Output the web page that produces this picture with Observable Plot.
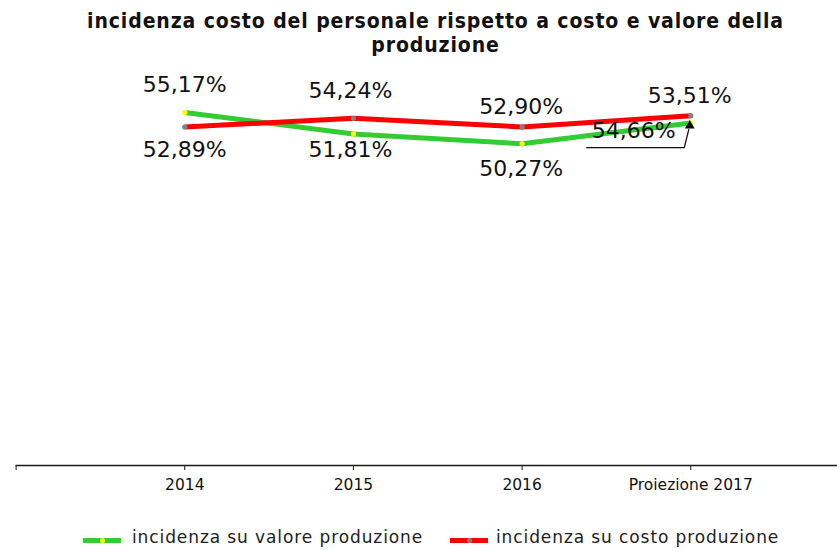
<!DOCTYPE html>
<html>
<head>
<meta charset="utf-8">
<script src="https://cdn.jsdelivr.net/npm/d3@7"></script>
<script src="https://cdn.jsdelivr.net/npm/@observablehq/plot@0.6"></script>
<style>
  html, body { margin: 0; padding: 0; background: #fff; }
  #wrap { position: relative; width: 837px; height: 550px; overflow: hidden; }
  #title { box-sizing: border-box; width: 837px; height: 60px; padding: 9px 0 0 34px; text-align: center;
    font-family: "DejaVu Sans Condensed", "DejaVu Sans", sans-serif; font-stretch: condensed; font-weight: bold;
    font-size: 21px; letter-spacing: 0.9px; line-height: 24px; color: #111; }
  #legend { position: relative; width: 837px; height: 30px; font-family: "DejaVu Sans", sans-serif;
    font-size: 17px; letter-spacing: 0.9px; color: #222; }
  .item { position: absolute; top: 0; height: 30px; }
  .sw { position: absolute; top: 18px; width: 38px; height: 5px; }
  .sw i { position: absolute; left: 17px; top: -0.5px; width: 5px; height: 5px; border-radius: 50%; }
  .lab { position: absolute; top: 8px; white-space: nowrap; line-height: 19px; }
</style>
</head>
<body>
<div id="wrap">
  <div id="title">incidenza costo del personale rispetto a costo e valore della<br>produzione</div>
  <div id="chart"></div>
  <div id="legend"></div>
</div>
<script>
// ---- data ----
const years = ["2014", "2015", "2016", "Proiezione 2017"];
const valoreProduzione = [55.17, 51.81, 50.27, 53.51];
const costoProduzione = [52.89, 54.24, 52.90, 54.66];
const seriesNames = ["incidenza su valore produzione", "incidenza su costo produzione"];

// ---- styles / layout ----
const colors = { line: ["#33cc33", "#ff0000"], dot: ["#ffff00", "#808080"] };
const W = 837, H = 460, mL = 15.6, mR = 0, mT = 21, mB = 55;
const xDomain = [-1, 3.87], yDomain = [0, 60];
const pxX = (W - mL - mR) / (xDomain[1] - xDomain[0]);
const pxY = (H - mT - mB) / (yDomain[1] - yDomain[0]);
// label offsets in pixels [dx, dy] per series / category
const labelOffsets = [
  [[0, -27], [-3, 16], [-1, 25], [-1, -27]],
  [[0, 23], [-3, -27], [-1, -20], [-57, 15.5]]
];

const fmt = v => v.toFixed(2).replace(".", ",") + "%";
const rows = [];
[valoreProduzione, costoProduzione].forEach((arr, s) =>
  arr.forEach((v, i) => rows.push({ s, i, v, name: seriesNames[s] })));

const marks = [
  Plot.ruleY([0], { stroke: "#1a1a1a", strokeWidth: 1.5 })
];
[0, 1].forEach(s => {
  marks.push(Plot.line(rows.filter(d => d.s === s), {
    x: "i", y: "v", stroke: colors.line[s], strokeWidth: 5, strokeLinejoin: "round", strokeLinecap: "butt"
  }));
});
[0, 1].forEach(s => {
  marks.push(Plot.dot(rows.filter(d => d.s === s), {
    x: "i", y: "v", r: 2.6, fill: colors.dot[s], stroke: "none"
  }));
});
rows.forEach(d => {
  const [dx, dy] = labelOffsets[d.s][d.i];
  marks.push(Plot.text([d], {
    x: "i", y: "v", text: dd => fmt(dd.v), dx, dy,
    fontSize: 22, fill: "#111", fontFamily: "DejaVu Sans, sans-serif"
  }));
});
// callout for the last "costo" label
const last = rows.find(d => d.s === 1 && d.i === 3);
const at = (dxp, dyp) => ({ x: last.i + dxp / pxX, y: last.v - dyp / pxY });
marks.push(Plot.line([at(-104, 32), at(-6.5, 32), at(-2, 14)], {
  x: "x", y: "y", stroke: "#111", strokeWidth: 1.3
}));
marks.push(Plot.dot([at(-1, 10)], {
  x: "x", y: "y", symbol: "triangle", r: 3.6, fill: "#000", stroke: "none"
}));

const chart = Plot.plot({
  width: W, height: H,
  marginLeft: mL, marginRight: mR, marginTop: mT, marginBottom: mB,
  x: { type: "linear", domain: xDomain, ticks: [-1, 0, 1, 2, 3],
       tickFormat: d => years[d] ?? "", tickSize: 5, tickPadding: 8, label: null },
  y: { domain: yDomain, axis: null },
  style: { fontFamily: "DejaVu Sans, sans-serif", fontSize: "15.5px", color: "#111", background: "#fff" },
  marks
});
document.getElementById("chart").appendChild(chart);

// ---- legend ----
const legend = document.getElementById("legend");
const legendX = [[83, 132], [450, 496]];
seriesNames.forEach((name, s) => {
  const item = document.createElement("div");
  item.className = "item";
  item.innerHTML = `<div class="sw" style="left:${legendX[s][0]}px;background:${colors.line[s]}"><i style="background:${colors.dot[s]}"></i></div>` +
    `<div class="lab" style="left:${legendX[s][1]}px">${name}</div>`;
  legend.appendChild(item);
});
</script>
</body>
</html>
